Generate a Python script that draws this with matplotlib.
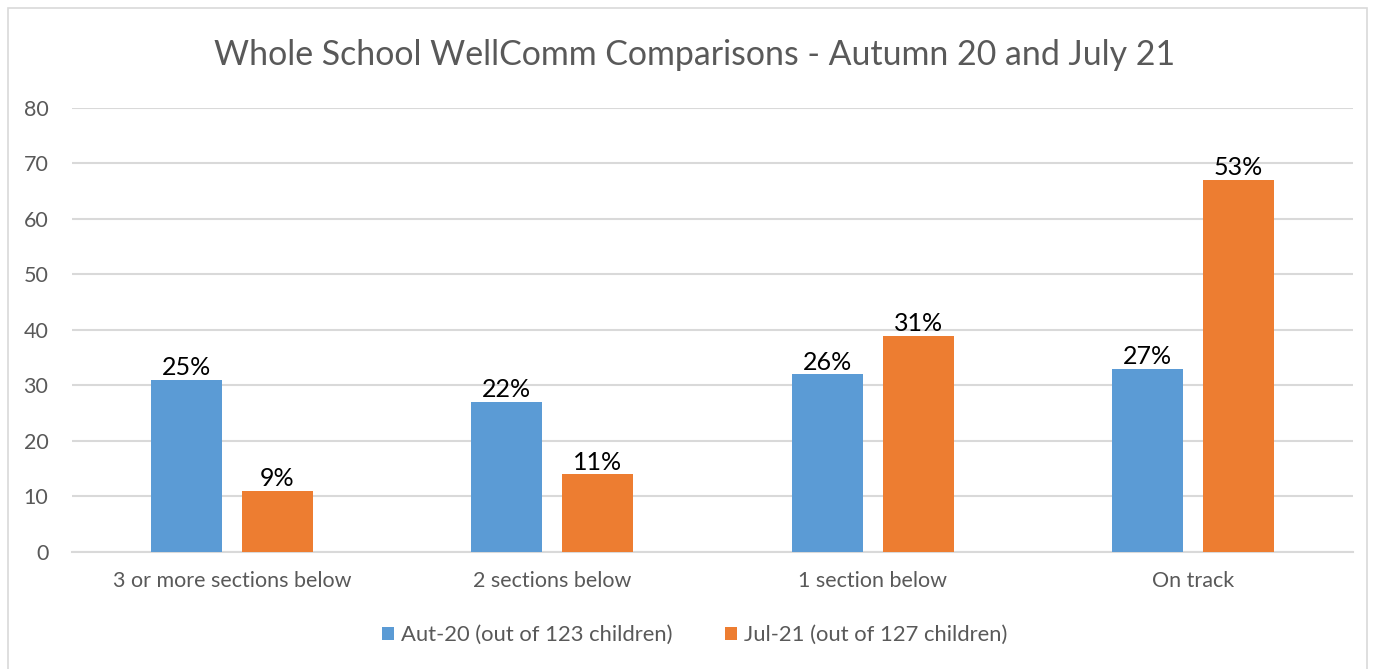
import matplotlib.pyplot as plt
import matplotlib.patches as patches
import numpy as np

categories = ["3 or more sections below", "2 sections below", "1 section below", "On track"]
aut20_values = [31, 27, 32, 33]
jul21_values = [11, 14, 39, 67]
aut20_labels = ["25%", "22%", "26%", "27%"]
jul21_labels = ["9%", "11%", "31%", "53%"]
series_names = ["Aut-20 (out of 123 children)", "Jul-21 (out of 127 children)"]
y_ticks = [0, 10, 20, 30, 40, 50, 60, 70, 80]

blue = "#5b9bd5"
orange = "#ed7d31"
grey_text = "#595959"
grid_grey = "#d9d9d9"

plt.rcParams['font.family'] = ['Lato', 'DejaVu Sans']

fig = plt.figure(figsize=(13.73, 6.69), dpi=100)
ax = fig.add_axes([0.0524, 0.1749, 0.933, 0.6637])

# Outer chart border
fig.patches.append(patches.Rectangle((8 / 1373, -0.01), 1359 / 1373, 1 - 8 / 669 + 0.01,
                                     transform=fig.transFigure, fill=False,
                                     edgecolor=grid_grey, linewidth=1.2))

x = np.arange(len(categories))
width = 0.222
offset = 0.142

bars1 = ax.bar(x - offset, aut20_values, width, color=blue, label=series_names[0], zorder=3)
bars2 = ax.bar(x + offset, jul21_values, width, color=orange, label=series_names[1], zorder=3)

for bars, labels in ((bars1, aut20_labels), (bars2, jul21_labels)):
    for b, lab in zip(bars, labels):
        ax.annotate(lab, (b.get_x() + b.get_width() / 2, b.get_height()),
                    xytext=(0, 0.5), textcoords="offset points",
                    ha='center', va='bottom', fontsize=18, color="black")

ax.set_xlim(-0.5, len(categories) - 0.5)
ax.set_ylim(0, 80)
ax.set_yticks(y_ticks)
ax.set_xticks(x)
ax.set_xticklabels(categories)
ax.tick_params(axis='both', length=0, colors=grey_text, labelsize=15.5)
ax.tick_params(axis='y', pad=17)
ax.tick_params(axis='x', pad=14)

ax.grid(axis='y', color=grid_grey, linewidth=1.5, zorder=0)
for side in ("top", "right", "left"):
    ax.spines[side].set_visible(False)
ax.spines["bottom"].set_color(grid_grey)
ax.spines["bottom"].set_linewidth(1.5)

fig.text(0.506, 0.918, "Whole School WellComm Comparisons - Autumn 20 and July 21",
         ha='center', va='center', fontsize=24.4, color=grey_text)

fig.legend(loc='center', bbox_to_anchor=(0.506, 0.051), ncol=2, frameon=False,
           fontsize=15.8, labelcolor=grey_text, handlelength=0.55, handleheight=0.55,
           handletextpad=0.3, columnspacing=2.4)

fig.savefig("out.png", dpi=100)
